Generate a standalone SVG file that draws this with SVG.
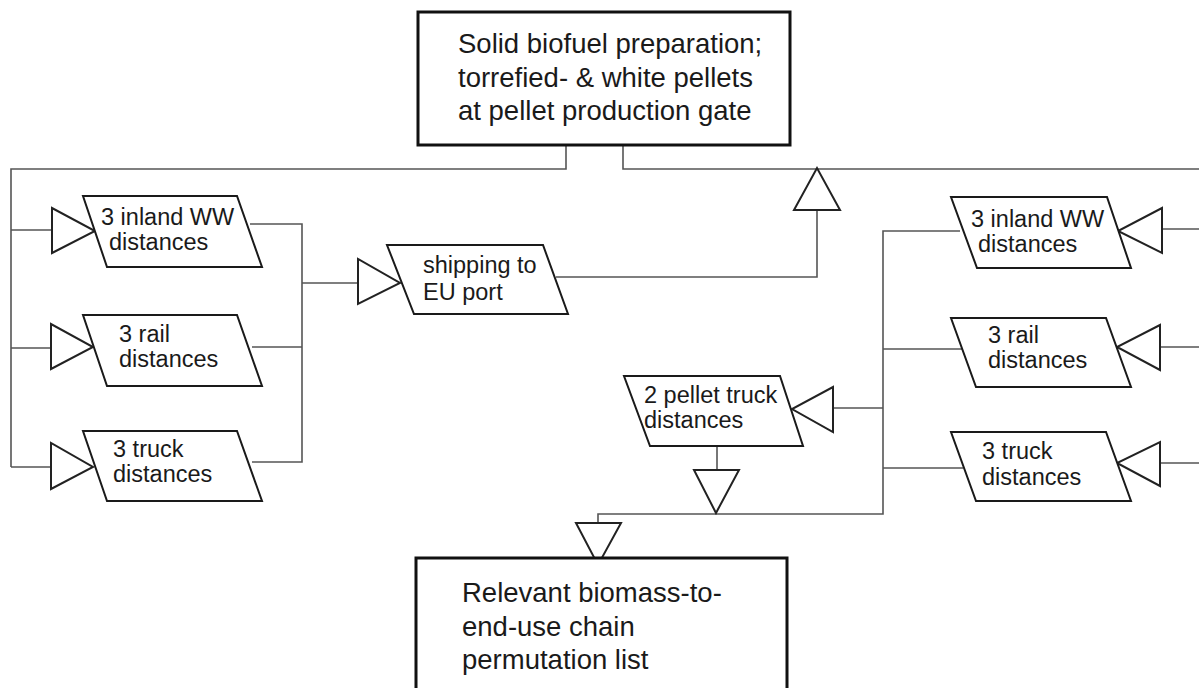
<svg xmlns="http://www.w3.org/2000/svg" width="1199" height="688" viewBox="0 0 1199 688">
<style>
.bg{fill:#fff}
.box{fill:#fff;stroke:#111;stroke-width:3}
.para{fill:#fff;stroke:#1a1a1a;stroke-width:2}
.tri{fill:#fff;stroke:#222;stroke-width:2;stroke-linejoin:miter}
.con{fill:none;stroke:#555;stroke-width:1.6}
.big{font-family:"Liberation Sans",Arial,sans-serif;font-size:27.5px;fill:#1a1a1a}
.sm{font-family:"Liberation Sans",Arial,sans-serif;font-size:23.5px;fill:#1a1a1a}
</style>
<rect class="bg" x="0" y="0" width="1199" height="688"/>
<g id="connectors">
<polyline class="con" points="566,145 566,169 11,169 11,467"/>
<polyline class="con" points="623,145 623,169 1199,169"/>
<line class="con" x1="11" y1="230" x2="52" y2="230"/>
<line class="con" x1="11" y1="348" x2="51" y2="348"/>
<line class="con" x1="11" y1="467" x2="51" y2="467"/>
<polyline class="con" points="250,224 302,224 302,462 252,462"/>
<line class="con" x1="252" y1="347" x2="302" y2="347"/>
<line class="con" x1="302" y1="283" x2="358" y2="283"/>
<polyline class="con" points="556,277 817,277 817,210"/>
<polyline class="con" points="960,231 883,231 883,514 598,514 598,523"/>
<line class="con" x1="883" y1="349" x2="963" y2="349"/>
<line class="con" x1="883" y1="468" x2="963" y2="468"/>
<line class="con" x1="833" y1="408" x2="883" y2="408"/>
<line class="con" x1="717" y1="446" x2="717" y2="470"/>
<line class="con" x1="1162" y1="229" x2="1199" y2="229"/>
<line class="con" x1="1160" y1="347" x2="1199" y2="347"/>
<line class="con" x1="1160" y1="463" x2="1199" y2="463"/>
<polygon class="tri" points="52,208 52,253 95,231"/>
<polygon class="tri" points="51,324 51,369 93,347"/>
<polygon class="tri" points="51,443 51,489 93,467"/>
<polygon class="tri" points="358,259 358,304 400,283"/>
<polygon class="tri" points="794,210 840,210 817,168"/>
<polygon class="tri" points="1162,208 1162,253 1118,231"/>
<polygon class="tri" points="1160,325 1160,370 1117,347"/>
<polygon class="tri" points="1160,442 1160,486 1117,463"/>
<polygon class="tri" points="833,387 833,432 792,409"/>
<polygon class="tri" points="694,470 739,470 716,513"/>
<polygon class="tri" points="576,523 621,523 598,565"/>
</g>
<g id="top-box">
<rect class="box" x="418" y="12" width="372" height="133"/>
<text class="big" x="458" y="53">Solid biofuel preparation;</text>
<text class="big" x="458" y="87">torrefied- &amp; white pellets</text>
<text class="big" x="458" y="120">at pellet production gate</text>
</g>
<g id="left-inland-ww">
<polygon class="para" points="83,196 237,196 262,267 107,267"/>
<text class="sm" x="101" y="225">3 inland WW</text>
<text class="sm" x="109" y="250">distances</text>
</g>
<g id="left-rail">
<polygon class="para" points="83,315 237,315 262,386 107,386"/>
<text class="sm" x="119" y="342">3 rail</text>
<text class="sm" x="119" y="367">distances</text>
</g>
<g id="left-truck">
<polygon class="para" points="83,431 237,431 262,501 107,501"/>
<text class="sm" x="113" y="457">3 truck</text>
<text class="sm" x="113" y="482">distances</text>
</g>
<g id="shipping">
<polygon class="para" points="387,245 543,245 568,314 414,314"/>
<text class="sm" x="423" y="273">shipping to</text>
<text class="sm" x="423" y="300">EU port</text>
</g>
<g id="pellet-truck">
<polygon class="para" points="624,376 780,376 803,446 650,446"/>
<text class="sm" x="644" y="403">2 pellet truck</text>
<text class="sm" x="644" y="428">distances</text>
</g>
<g id="right-inland-ww">
<polygon class="para" points="951,197 1107,197 1131,268 977,268"/>
<text class="sm" x="971" y="227">3 inland WW</text>
<text class="sm" x="978" y="252">distances</text>
</g>
<g id="right-rail">
<polygon class="para" points="951,318 1106,318 1131,387 976,387"/>
<text class="sm" x="988" y="343">3 rail</text>
<text class="sm" x="988" y="368">distances</text>
</g>
<g id="right-truck">
<polygon class="para" points="951,432 1106,432 1131,501 976,501"/>
<text class="sm" x="982" y="459">3 truck</text>
<text class="sm" x="982" y="485">distances</text>
</g>
<g id="bottom-box">
<rect class="box" x="416" y="558" width="371" height="150"/>
<text class="big" x="462" y="602">Relevant biomass-to-</text>
<text class="big" x="462" y="636">end-use chain</text>
<text class="big" x="462" y="669">permutation list</text>
</g>
</svg>
